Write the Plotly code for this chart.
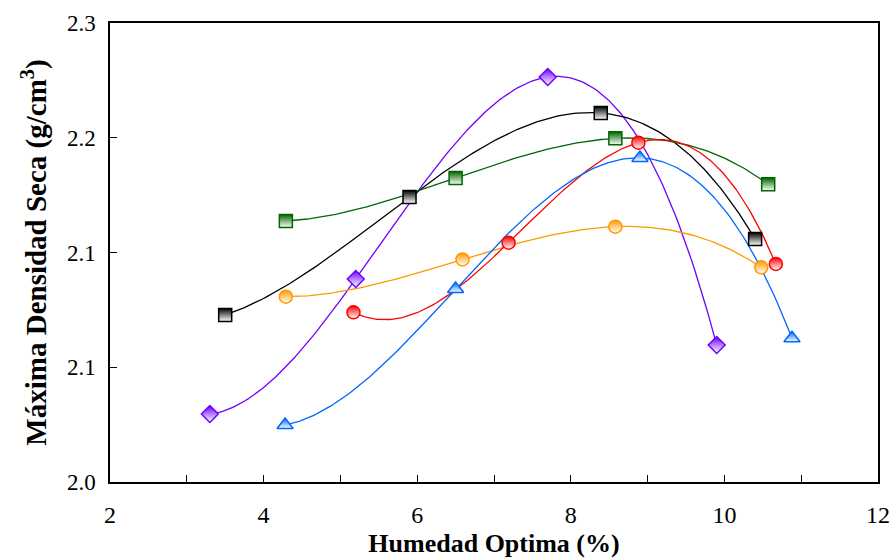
import numpy as np
import plotly.graph_objects as go

# ---- data ----
purple_x = [3.3, 5.2, 7.7, 9.9]
purple_y = [2.0444, 2.1327, 2.2647, 2.0895]

black_x = [3.5, 5.9, 8.39, 10.4]
black_y = [2.1092, 2.1863, 2.2412, 2.1588]

green_x = [4.29, 6.5, 8.58, 10.57]
green_y = [2.1706, 2.1987, 2.2246, 2.1946]

orange_x = [4.29, 6.59, 8.58, 10.48]
orange_y = [2.1211, 2.1455, 2.1669, 2.1403]

red_x = [5.17, 7.19, 8.88, 10.67]
red_y = [2.1109, 2.1564, 2.2218, 2.1425]

blue_x = [4.28, 6.5, 8.9, 10.88]
blue_y = [2.0372, 2.1261, 2.2118, 2.0939]

y_tickvals = [2.0, 2.075, 2.15, 2.225, 2.3]
y_ticktext = ["2.0", "2.1", "2.1", "2.2", "2.3"]

series = [
    ("purple", purple_x, purple_y, "#6E00FF", "diamond"),
    ("black", black_x, black_y, "#000000", "square"),
    ("green", green_x, green_y, "#006600", "square"),
    ("orange", orange_x, orange_y, "#FF9900", "circle"),
    ("red", red_x, red_y, "#FF0000", "circle"),
    ("blue", blue_x, blue_y, "#0066FF", "triangle-up"),
]

fig = go.Figure()
for name, xs, ys, col, sym in series:
    coef = np.polyfit(xs, ys, 3)
    xx = np.linspace(min(xs), max(xs), 200)
    fig.add_trace(go.Scatter(x=xx, y=np.polyval(coef, xx), mode="lines",
                             line=dict(color=col, width=1.3),
                             hoverinfo="skip", showlegend=False))
for name, xs, ys, col, sym in series:
    fig.add_trace(go.Scatter(x=xs, y=ys, mode="markers", name=name,
                             marker=dict(symbol=sym, size=13 if sym != "triangle-up" else 14,
                                         color=col,
                                         gradient=dict(type="vertical", color="white"),
                                         line=dict(color=col, width=1.5)),
                             showlegend=False))

font_family = "Liberation Serif"
fig.update_layout(
    width=892, height=558,
    margin=dict(l=110, r=14, t=23, b=76),
    paper_bgcolor="white", plot_bgcolor="white",
    font=dict(family=font_family, color="black", size=23),
    showlegend=False,
)
fig.update_xaxes(
    range=[2, 12], tickvals=[2, 4, 6, 8, 10, 12], ticks="inside", ticklen=7,
    tickwidth=1.2, tickcolor="black", automargin=False,
    minor=dict(dtick=1, tick0=2, ticks="inside", ticklen=7, tickwidth=1.2, tickcolor="black"),
    showline=True, linecolor="black", linewidth=1.5, mirror=True, showgrid=False,
    zeroline=False, tickfont=dict(family=font_family, size=24), ticklabelstandoff=10,
    title=dict(text="<b>Humedad Optima (%)</b>", font=dict(family=font_family, size=26), standoff=8),
)
fig.update_yaxes(
    range=[2.0, 2.3], tickvals=y_tickvals, ticktext=y_ticktext, ticks="inside",
    ticklen=7, tickwidth=1.2, tickcolor="black", automargin=False,
    showline=True, linecolor="black", linewidth=1.5, mirror=True, showgrid=False,
    zeroline=False, tickfont=dict(family=font_family, size=23), ticklabelstandoff=8,
    title=dict(text="<b>Máxima Densidad Seca (g/cm<sup>3</sup>)</b>",
               font=dict(family=font_family, size=29), standoff=12),
)

fig.write_html("out.html")
